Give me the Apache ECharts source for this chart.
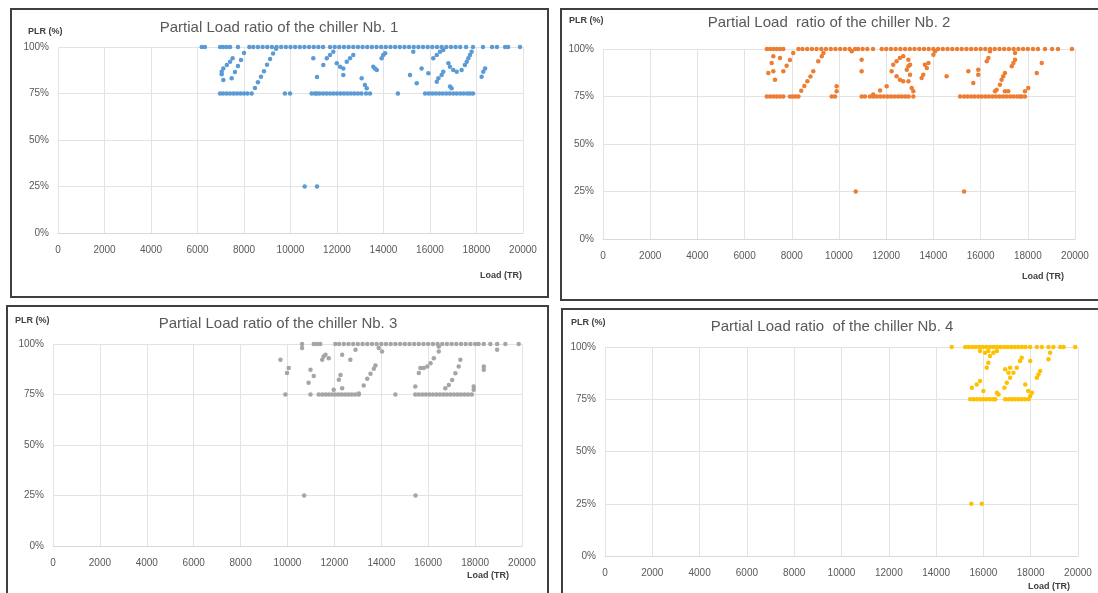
<!DOCTYPE html>
<html>
<head>
<meta charset="utf-8">
<script src="https://cdn.jsdelivr.net/npm/echarts@6/dist/echarts.min.js"></script>
<style>
html,body{margin:0;padding:0;background:#fff;}
#chart{width:1098px;height:593px;}
</style>
</head>
<body>
<div id="chart"></div>
<script>
// ---------- DATA ----------
var titles = [
  'Partial Load ratio of the chiller Nb. 1',
  'Partial Load  ratio of the chiller Nb. 2',
  'Partial Load ratio of the chiller Nb. 3',
  'Partial Load ratio  of the chiller Nb. 4'
];
var colors = ['#5B9BD5', '#ED7D31', '#A5A5A5', '#FFC000'];
var yTicks = [0, 25, 50, 75, 100];
var xTicks = [0, 2000, 4000, 6000, 8000, 10000, 12000, 14000, 16000, 18000, 20000];

// Chiller 1: loads at PLR 100 %, loads at PLR 75 %, other [load, PLR] points
var c1Full = [6180, 6320, 6970, 7100, 7250, 7400, 7740, 8230, 8400, 8600, 8800, 9000, 9200, 9400, 9600, 9800, 10000, 10200, 10400, 10600, 10800, 11000, 11200, 11400, 11700, 11900, 12100, 12300, 12500, 12700, 12900, 13100, 13300, 13500, 13700, 13900, 14100, 14300, 14500, 14700, 14900, 15100, 15300, 15500, 15700, 15900, 16100, 16300, 16500, 16700, 16900, 17100, 17300, 17550, 17850, 18280, 18670, 18880, 19230, 19360, 19870];
var c1Min = [6970, 7100, 7250, 7400, 7550, 7700, 7850, 8000, 8150, 8330, 9760, 9980, 10910, 11050, 11130, 11250, 11400, 11550, 11700, 11850, 12000, 12150, 12300, 12450, 12600, 12750, 12900, 13050, 13250, 13420, 14620, 15790, 15950, 16100, 16250, 16400, 16550, 16700, 16850, 17000, 17150, 17300, 17450, 17600, 17720, 17850];
var c1Other = [[7040,86.7],[7110,88.5],[7260,90.3],[7400,92.1],[7510,93.9],[7040,85.3],[7110,82.3],[7470,83.2],[7610,86.6],[7740,89.8],[7870,93.0],[8000,96.8],[8470,78],[8600,81],[8730,84],[8860,87],[8990,90.5],[9120,93.5],[9250,96.5],[9380,99],[10980,93.9],[11140,83.9],[11410,90.3],[11560,93.9],[11700,95.7],[11840,97.5],[11990,91.2],[12130,89.4],[12270,88.5],[12270,84.9],[12420,92.1],[12560,93.9],[12700,95.7],[13060,83.2],[13200,79.6],[13280,77.8],[13560,89.4],[13630,88.5],[13710,87.6],[13920,93.9],[13990,95.7],[14070,96.6],[15280,97.5],[15140,84.9],[15430,80.5],[15640,88.5],[15930,85.9],[16140,93.9],[16290,95.7],[16430,97.5],[16570,98.4],[16360,83.2],[16500,84.9],[16570,86.7],[16290,81.3],[16790,91.2],[16860,89.4],[17000,87.6],[17150,86.7],[16860,78.7],[16930,77.8],[17360,87.6],[17500,90.3],[17580,92.1],[17650,93.9],[17720,95.7],[17790,97.5],[18220,84.0],[18290,86.7],[18370,88.5],[10610,25],[11140,25]];

// Chiller 2
var c2Full = [6940, 7080, 7220, 7360, 7500, 7640, 8280, 8450, 8650, 8850, 9050, 9250, 9450, 9650, 9850, 10050, 10250, 10450, 10680, 10810, 11000, 11200, 11440, 11810, 12000, 12200, 12400, 12600, 12800, 13000, 13200, 13400, 13600, 13800, 14000, 14200, 14400, 14600, 14800, 15000, 15200, 15400, 15600, 15800, 16000, 16200, 16400, 16600, 16800, 17000, 17200, 17400, 17600, 17800, 18000, 18220, 18430, 18730, 19030, 19280, 19870];
var c2Min = [6940, 7080, 7220, 7360, 7500, 7640, 7920, 8040, 8160, 8280, 9690, 9830, 10960, 11100, 11310, 11450, 11600, 11750, 11900, 12050, 12200, 12350, 12500, 12650, 12800, 12950, 13150, 15130, 15300, 15450, 15600, 15750, 15900, 16050, 16200, 16350, 16500, 16650, 16800, 16950, 17100, 17250, 17400, 17550, 17670, 17740, 17880];
var c2Other = [[7216,96.2],[7148,92.6],[7500,95.3],[7004,87.4],[7216,88.3],[7288,83.8],[7640,88.3],[7780,91.2],[7920,94.2],[8060,97.9],[8400,78],[8530,80.5],[8660,83],[8790,85.5],[8910,88.3],[9120,93.5],[9270,96.2],[9340,97.9],[9900,80.4],[9900,77.7],[10540,98.8],[10960,94.4],[10960,88.3],[11450,76],[11740,78.2],[12020,80.4],[12230,88.3],[12300,91.7],[12440,93.5],[12580,95.3],[12720,96.2],[12440,85.6],[12580,83.8],[12720,83.0],[12870,89.1],[12940,90.9],[13010,86.5],[12940,94.4],[13010,91.7],[12940,83],[13080,79.5],[13150,77.7],[13640,91.7],[13720,90],[13790,92.6],[13500,84.7],[13570,86.5],[14000,97],[14070,98.8],[14560,85.6],[15480,88.3],[15900,89.1],[15900,86.5],[15690,82.1],[16260,93.5],[16330,95.3],[16400,98.8],[16890,83.8],[16960,85.6],[17030,87.4],[16820,81.2],[16610,77.7],[16680,78.6],[17030,77.7],[17170,77.7],[17320,90.9],[17390,92.6],[17460,94.4],[17460,97.9],[17880,77.7],[18020,79.5],[18380,87.4],[18590,92.6],[10710,25],[15300,25]];

// Chiller 3
var c3Full = [10620, 11120, 11260, 11400, 12040, 12200, 12400, 12600, 12800, 13000, 13200, 13400, 13600, 13800, 14000, 14200, 14400, 14600, 14800, 15000, 15200, 15400, 15600, 15800, 16000, 16200, 16400, 16600, 16800, 17000, 17200, 17400, 17600, 17800, 18000, 18150, 18370, 18650, 18940, 19290, 19860];
var c3Min = [9910, 10980, 11330, 11480, 11620, 11760, 11900, 12040, 12180, 12320, 12460, 12600, 12740, 12880, 13040, 14600, 15450, 15600, 15750, 15900, 16050, 16200, 16350, 16500, 16650, 16800, 16950, 17100, 17250, 17400, 17550, 17700, 17860];
var c3Other = [[10620,98],[12900,97.2],[13890,98],[14030,96.3],[9700,92.2],[10050,88.1],[9980,85.6],[10980,87.2],[11120,84.1],[10900,80.8],[11480,92.2],[11540,93.8],[11620,94.7],[11760,93.0],[12330,94.7],[12680,92.2],[12260,84.7],[12190,82.3],[12330,78.1],[11970,77.3],[13040,75.5],[13250,79.5],[13400,82.8],[13540,85.3],[13680,87.7],[13750,89.4],[18940,97.2],[16450,98.8],[16450,96.3],[16240,93],[16100,90.5],[15960,88.9],[15810,88.1],[15670,88.1],[15600,85.6],[15450,78.9],[17370,92.2],[17300,88.9],[17160,85.5],[17020,82.2],[16880,79.7],[16730,78.1],[18370,88.9],[18370,87.2],[17940,78.9],[17940,77.3],[10710,25],[15460,25]];

// Chiller 4
var c4Full = [14660, 15230, 15380, 15530, 15680, 15830, 15980, 16130, 16280, 16430, 16580, 16730, 16880, 17030, 17180, 17330, 17480, 17630, 17780, 17970, 18260, 18470, 18750, 18960, 19250, 19390, 19880];
var c4Min = [15440, 15580, 15720, 15860, 16000, 16140, 16280, 16420, 16500, 16920, 17060, 17200, 17340, 17480, 17620, 17760, 17910];
var c4Other = [[15860,98.1],[16070,97.3],[16210,98.1],[16420,97.3],[16570,98.1],[16280,95.7],[16210,92.5],[16140,90.1],[15510,80.5],[15720,82.1],[15860,83.7],[16000,78.9],[16570,78.1],[16640,77.3],[16890,80.5],[16990,82.9],[17130,85.3],[17270,87.7],[17410,90.1],[17550,93.3],[17620,94.9],[16920,89.3],[17130,90.1],[17060,87.7],[17770,82.1],[17900,78.9],[18260,85.3],[18330,86.9],[18400,88.5],[17980,93.3],[18750,94.1],[18820,97.3],[17980,76.6],[18050,78.1],[15490,25],[15930,25]];

var fullLoads = [c1Full, c2Full, c3Full, c4Full];
var minLoads = [c1Min, c2Min, c3Min, c4Min];
var otherPts = [c1Other, c2Other, c3Other, c4Other];

// ---------- LAYOUT ----------
var grids = [
  {left: 58, top: 47, width: 465, height: 186},
  {left: 603, top: 49, width: 472, height: 190},
  {left: 53, top: 344, width: 469, height: 202},
  {left: 605, top: 347, width: 473, height: 209}
];
var frames = [
  {x: 11, y: 9, w: 537, h: 288},
  {x: 561, y: 9, w: 540, h: 291},
  {x: 7, y: 306, w: 541, h: 295},
  {x: 562, y: 309, w: 540, h: 290}
];
var titlePos = [[279, 20], [829, 15], [278, 316], [832, 319]];
var plrPos = [[28, 27], [569, 16], [15, 316], [571, 318]];
var loadPos = [[480, 271], [1022, 272], [467, 571], [1028, 582]];

var font = 'Liberation Sans, Arial, sans-serif';
var chart = echarts.init(document.getElementById('chart'));
var option = {
  backgroundColor: '#ffffff',
  animation: false,
  title: [], grid: [], xAxis: [], yAxis: [], series: [],
  graphic: []
};
for (var i = 0; i < 4; i++) {
  option.grid.push(grids[i]);
  option.xAxis.push({
    gridIndex: i, type: 'value', min: xTicks[0], max: xTicks[xTicks.length - 1], interval: 2000,
    axisLine: {show: true, lineStyle: {color: '#d9d9d9'}},
    axisTick: {show: false},
    splitLine: {show: true, lineStyle: {color: '#e3e3e3'}},
    axisLabel: {color: '#595959', fontFamily: font, fontSize: 10, margin: 12,
      formatter: function (v) { return String(v); }}
  });
  option.yAxis.push({
    gridIndex: i, type: 'value', min: yTicks[0], max: yTicks[yTicks.length - 1], interval: 25,
    axisLine: {show: false},
    axisTick: {show: false},
    splitLine: {show: true, lineStyle: {color: '#e3e3e3'}},
    axisLabel: {color: '#595959', fontFamily: font, fontSize: 10, margin: 9, formatter: '{value}%'}
  });
  var data = [];
  fullLoads[i].forEach(function (x) { data.push([x, 100]); });
  minLoads[i].forEach(function (x) { data.push([x, 75]); });
  otherPts[i].forEach(function (p) { data.push([p[0], p[1]]); });
  option.series.push({
    type: 'scatter', xAxisIndex: i, yAxisIndex: i,
    symbol: 'circle', symbolSize: 4.5,
    itemStyle: {color: colors[i], opacity: 1},
    data: data
  });
  option.graphic.push({
    type: 'rect', shape: {x: frames[i].x, y: frames[i].y, width: frames[i].w, height: frames[i].h},
    style: {fill: 'none', stroke: '#3f3f3f', lineWidth: 2}, z: 100
  });
  option.graphic.push({
    type: 'text', x: titlePos[i][0], y: titlePos[i][1],
    style: {text: titles[i], fill: '#595959', font: '15px ' + font, textAlign: 'center'}
  });
  option.graphic.push({
    type: 'text', left: plrPos[i][0], top: plrPos[i][1],
    style: {text: 'PLR (%)', fill: '#404040', font: 'bold 9px ' + font}
  });
  option.graphic.push({
    type: 'text', left: loadPos[i][0], top: loadPos[i][1],
    style: {text: 'Load (TR)', fill: '#404040', font: 'bold 9px ' + font}
  });
}
chart.setOption(option);
</script>
</body>
</html>
